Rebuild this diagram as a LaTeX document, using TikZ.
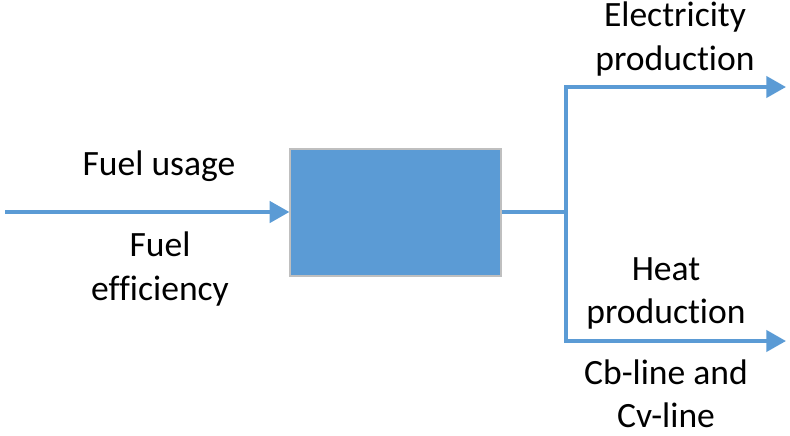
\documentclass[tikz,border=0pt]{standalone}
\usepackage{fontspec}
\setmainfont{Carlito}[Ligatures=CommonOff]
\usetikzlibrary{positioning, arrows.meta}

\definecolor{flowblue}{HTML}{5B9BD5}

\begin{document}
\begin{tikzpicture}[x=0.025cm, y=-0.025cm,
  plant/.style={rectangle, draw=black!25, line width=0.8pt, fill=flowblue, minimum width=5.275cm, minimum height=3.175cm, inner sep=0pt},
  lbl/.style={align=center, inner sep=0pt, font=\fontsize{25.3}{30.6}\selectfont},
  flow/.style={draw=flowblue, line width=2.8pt},
  input/.style={flow, -{Triangle[length=14pt, width=15pt]}}]

\useasboundingbox (0,0) rectangle (790,435);

\node[plant] at (395.5,212.5) (plant) {};

\coordinate (src) at (5,212);
\coordinate (split) at (566,212);
\coordinate (elec) at (786,87);
\coordinate (heat) at (786,341);

\draw[input] (src) -- (plant.west |- src);
\draw[flow] (plant.east |- split) -- (split);
\draw[input] (split) |- (elec);
\draw[input] (split) |- (heat);

\node[lbl] at (159,166) (usage) {Fuel usage};
\node[lbl] at (160,269) (eff) {Fuel\\efficiency};
\node[lbl] at (675,39) (eprod) {Electricity\\production};
\node[lbl] at (666,293.5) (hprod) {Heat\\production};
\node[lbl] at (666,394) (cbcv) {Cb-line and\\Cv-line};
\end{tikzpicture}
\end{document}
